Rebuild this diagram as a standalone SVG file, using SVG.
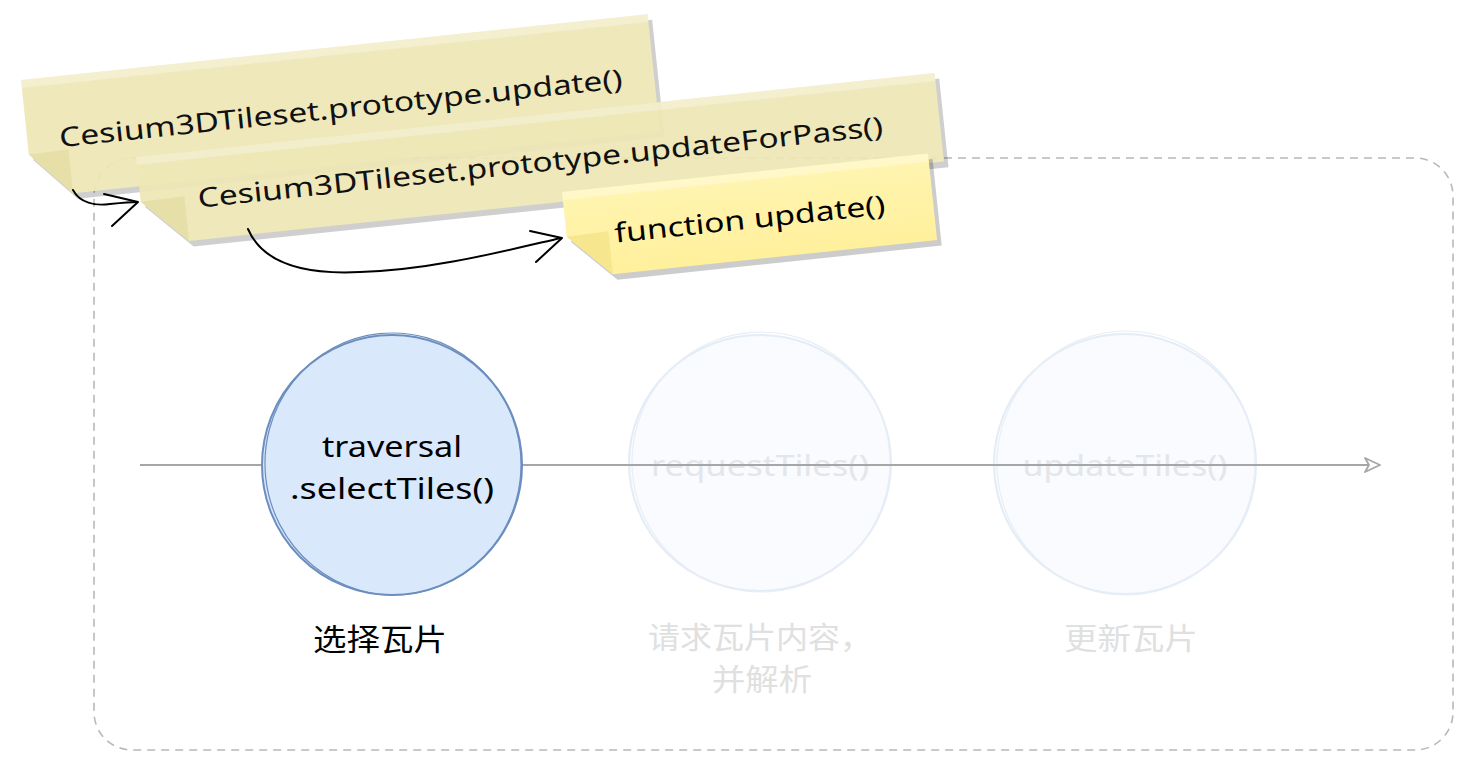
<svg xmlns="http://www.w3.org/2000/svg" width="1483" height="777" viewBox="0 0 1483 777">
  <style>
    .note-text { font-family: "Noto Sans", "Open Sans", sans-serif; font-size: 27px; fill: #000; }
    .shadow { fill: #000; opacity: 0.2; }
    .top-strip { fill: #fff; opacity: 0.3; }
    .pale-body { fill: #EEE7B6; }
    .pale-flap { fill: #E5DDA2; }
    .bright-flap { fill: #F6E68E; }
    .circ-text { font-family: "Noto Sans", "Open Sans", sans-serif; font-size: 29px; text-anchor: middle; }
    .cjk { font-family: "Noto Sans CJK SC", "Noto Sans", sans-serif; font-size: 30px; text-anchor: middle; }
    .faint { fill: #E3E6EA; }
    .faint-cjk { fill: #E0E0E0; }
    .curve { fill: none; stroke: #000; stroke-width: 2; stroke-linecap: round; stroke-linejoin: round; }
  </style>
  <defs>
    <linearGradient id="brightGrad" x1="0" y1="0" x2="0" y2="1">
      <stop offset="0" stop-color="#FFF5B2"/>
      <stop offset="1" stop-color="#FFF09C"/>
    </linearGradient>
    <marker id="openArrow" markerWidth="20" markerHeight="20" refX="16" refY="8" orient="auto" markerUnits="userSpaceOnUse">
      <path d="M1,1 L16,8 L1,15 L5,8 Z" fill="#fff" stroke="#A6A6A6" stroke-width="1.8" stroke-linejoin="round"/>
    </marker>
  </defs>

  <rect width="1483" height="777" fill="#ffffff"/>

  <!-- dashed container -->
  <g id="container">
    <rect x="94" y="158" width="1359" height="592" rx="38" ry="38" fill="none" stroke="#B8B8B8" stroke-width="1.6" stroke-dasharray="8 6"/>
  </g>

  <!-- note 1 -->
  <g id="note-update" transform="translate(21,80) rotate(-6)" opacity="0.93">
    <path class="shadow" d="M4,6 L634,6 L634,124 L44,124 L4,81 Z"/>
    <path class="pale-body" d="M0,0 L630,0 L630,118 L40,118 L0,75 Z"/>
    <rect class="top-strip" x="0" y="0" width="630" height="8"/>
    <path class="pale-flap" d="M0,75 L40,74 L40,118 Z"/>
    <text class="note-text" x="32" y="71" textLength="566" lengthAdjust="spacingAndGlyphs">Cesium3DTileset.prototype.update()</text>
  </g>

  <!-- note 2 -->
  <g id="note-updateForPass" transform="translate(136,157) rotate(-6)" opacity="0.93">
    <path class="shadow" d="M4,6 L807,6 L807,95 L48,95 L4,51 Z"/>
    <path class="pale-body" d="M0,0 L803,0 L803,89 L44,89 L0,45 Z"/>
    <rect class="top-strip" x="0" y="0" width="803" height="8"/>
    <path class="pale-flap" d="M0,45 L44,44 L44,89 Z"/>
    <text class="note-text" x="57" y="57" textLength="689" lengthAdjust="spacingAndGlyphs">Cesium3DTileset.prototype.updateForPass()</text>
  </g>

  <!-- note 3 -->
  <g id="note-function-update" transform="translate(562,192) rotate(-6)">
    <path class="shadow" d="M4,6 L372,6 L372,93 L46,93 L4,51 Z"/>
    <path fill="url(#brightGrad)" d="M0,0 L368,0 L368,87 L42,87 L0,45 Z"/>
    <rect class="top-strip" x="0" y="0" width="368" height="8"/>
    <path class="bright-flap" d="M0,45 L42,44 L42,87 Z"/>
    <text class="note-text" x="48" y="56" textLength="272" lengthAdjust="spacingAndGlyphs">function update()</text>
  </g>

  <!-- faded circles (behind main line) -->
  <g id="node-requestTiles">
    <ellipse cx="760" cy="463" rx="131" ry="128" fill="#F9FBFE" stroke="#E4ECF6" stroke-width="2"/>
    <ellipse cx="761" cy="462" rx="129" ry="130" fill="none" stroke="#E8EEF7" stroke-width="1.2" transform="rotate(-4 761 462)"/>
    <text class="circ-text faint" x="760" y="476" textLength="218" lengthAdjust="spacingAndGlyphs">requestTiles()</text>
  </g>
  <g id="node-updateTiles">
    <ellipse cx="1125" cy="464" rx="131" ry="130" fill="#F9FBFE" stroke="#E4ECF6" stroke-width="2"/>
    <ellipse cx="1126" cy="463" rx="129" ry="132" fill="none" stroke="#E8EEF7" stroke-width="1.2" transform="rotate(5 1126 463)"/>
    <text class="circ-text faint" x="1125" y="476" textLength="205" lengthAdjust="spacingAndGlyphs">updateTiles()</text>
  </g>

  <!-- connectors -->
  <g id="connectors">
    <path d="M140,465 L1380,465" fill="none" stroke="#A6A6A6" stroke-width="2" marker-end="url(#openArrow)"/>
    <path class="curve" d="M73,190 C80,203 95,206 110,204 C120,203 130,202 137,202"/>
    <path class="curve" d="M104,194 L138,202 L112,226"/>
    <path class="curve" d="M248,229 C262,262 300,275 360,272 C430,270 500,252 561,238"/>
    <path class="curve" d="M530,231 L562,238 L536,262"/>
  </g>

  <!-- main circle -->
  <g id="node-selectTiles">
    <circle cx="392" cy="465" r="130" fill="#DAE8FC" stroke="#6C8EBF" stroke-width="2"/>
    <ellipse cx="393" cy="464" rx="128" ry="131" fill="none" stroke="#6C8EBF" stroke-width="1.2" transform="rotate(-6 393 464)"/>
    <text class="circ-text" x="392" y="457" fill="#000" textLength="140" lengthAdjust="spacingAndGlyphs">traversal</text>
    <text class="circ-text" x="392" y="499" fill="#000" textLength="204" lengthAdjust="spacingAndGlyphs">.selectTiles()</text>
  </g>

  <!-- labels -->
  <g id="label-select">
    <text class="cjk" x="380" y="650" fill="#000" textLength="134" lengthAdjust="spacingAndGlyphs">选择瓦片</text>
  </g>
  <g id="label-request">
    <text class="cjk faint-cjk" x="760" y="648" textLength="224" lengthAdjust="spacingAndGlyphs">请求瓦片内容，</text>
    <text class="cjk faint-cjk" x="762" y="690" textLength="100" lengthAdjust="spacingAndGlyphs">并解析</text>
  </g>
  <g id="label-update">
    <text class="cjk faint-cjk" x="1131" y="649" textLength="134" lengthAdjust="spacingAndGlyphs">更新瓦片</text>
  </g>
</svg>
